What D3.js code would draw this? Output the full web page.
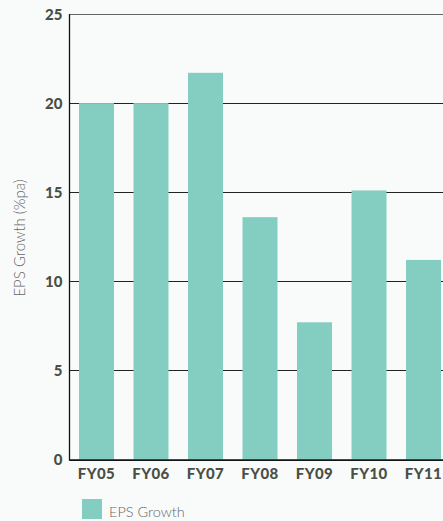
<!DOCTYPE html>
<html><head><meta charset="utf-8">
<script src="https://cdn.jsdelivr.net/npm/d3@7"></script>
<style>
html,body{margin:0;padding:0;background:#f9fbfb;}
svg{display:block;}
</style></head>
<body><svg id="c" width="443" height="521"></svg>
<script>
const categories = ["FY05","FY06","FY07","FY08","FY09","FY10","FY11"];
const epsGrowth = [20, 20, 21.7, 13.6, 7.7, 15.1, 11.2];
const yTicks = [0,5,10,15,20,25];
const seriesName = "EPS Growth";
const yTitle = "EPS Growth (%pa)";

(function(){
const svg = d3.select("#c");
const pLeft = 69.5, pRight = 450.5, pTop = 14, pBottom = 459.5;
const x = d3.scaleBand().domain(categories).range([pLeft, pRight]).paddingInner(0.358).paddingOuter(0.174);
const y = d3.scaleLinear().domain([0,25]).range([pBottom, pTop]);
const barColor = "#83cec0";
const textDark = "#4a4f45";

// gridlines
svg.append("g").selectAll("line").data(yTicks).join("line")
  .attr("x1", pLeft).attr("x2", 443)
  .attr("y1", d => Math.round(y(d)) + 0.5).attr("y2", d => Math.round(y(d)) + 0.5)
  .attr("stroke", d => d === 25 ? "#666" : "#222").attr("stroke-width", 1.2);

// bars
svg.append("g").selectAll("rect").data(epsGrowth).join("rect")
  .attr("x", (d,i) => x(categories[i])).attr("width", x.bandwidth())
  .attr("y", d => y(d)).attr("height", d => y(0) - y(d))
  .attr("fill", barColor);

// zero line & y axis line
svg.append("line").attr("x1", pLeft).attr("x2", 443).attr("y1", pBottom+0.5).attr("y2", pBottom+0.5).attr("stroke","#111").attr("stroke-width",1.3);
svg.append("line").attr("x1", pLeft).attr("x2", pLeft).attr("y1", pTop).attr("y2", pBottom+1).attr("stroke","#111").attr("stroke-width",1.3);

// y axis labels
const yAxis = d3.axisLeft(y).tickValues(yTicks).tickSize(0).tickPadding(7);
const gy = svg.append("g").attr("transform", `translate(${pLeft},0)`).call(yAxis);
gy.select(".domain").remove();
gy.selectAll("text").attr("font-family","Lato, 'Open Sans', sans-serif").attr("font-weight","900")
  .attr("font-size","15px").attr("fill",textDark).attr("dy","0.36em");

// x axis labels
const xAxis = d3.axisBottom(x).tickSize(0).tickPadding(9);
const gx = svg.append("g").attr("transform", `translate(0,${pBottom})`).call(xAxis);
gx.select(".domain").remove();
gx.selectAll("text").attr("font-family","Lato, 'Open Sans', sans-serif").attr("font-weight","900")
  .attr("font-size","15px").attr("letter-spacing","0.4px").attr("fill",textDark);

// y title
svg.append("text").attr("transform","translate(25,238) rotate(-90)")
  .attr("text-anchor","middle").attr("font-family","Lato, sans-serif").attr("font-weight","300")
  .attr("font-size","15px").attr("fill","#666666").text(yTitle);

// legend
svg.append("rect").attr("x",82).attr("y",499).attr("width",20).attr("height",20).attr("fill",barColor);
svg.append("text").attr("x",109).attr("y",517).attr("font-family","Lato, sans-serif").attr("font-weight","300")
  .attr("font-size","14.5px").attr("fill","#666666").text(seriesName);
})();
</script></body></html>
